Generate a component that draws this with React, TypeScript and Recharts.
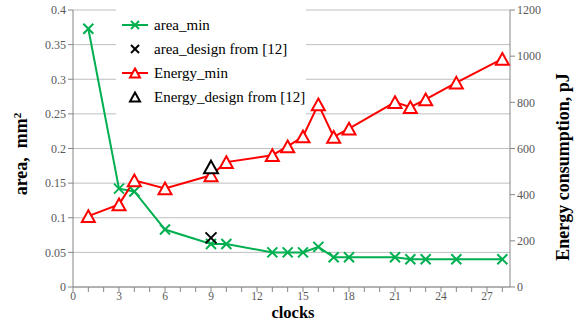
import React from 'react';
import { ComposedChart, Line, XAxis, YAxis, CartesianGrid } from 'recharts';

// clocks on the x axis
const CLOCKS = [1, 3, 4, 6, 9, 10, 13, 14, 15, 16, 17, 18, 21, 22, 23, 25, 28];
// area, mm^2 (left axis)
const AREA_MIN = [0.373, 0.142, 0.138, 0.083, 0.062, 0.062, 0.05, 0.05, 0.05, 0.058, 0.043, 0.043, 0.043, 0.04, 0.04, 0.04, 0.04];
// energy, pJ (right axis)
const ENERGY_MIN = [307, 358, 462, 427, 484, 541, 571, 609, 652, 791, 650, 686, 801, 779, 813, 885, 988];
// design points from [12]
const DESIGN_CLOCKS = [9];
const AREA_DESIGN = [0.071];
const ENERGY_DESIGN = [520];

const X_TICKS = [0, 1, 2, 3, 4, 5, 6, 7, 8, 9, 10, 11, 12, 13, 14, 15, 16, 17, 18, 19, 20, 21, 22, 23, 24, 25, 26, 27, 28];
const AREA_TICKS = [0, 0.05, 0.1, 0.15, 0.2, 0.25, 0.3, 0.35, 0.4];
const ENERGY_TICKS = [0, 200, 400, 600, 800, 1000, 1200];

const GREEN = '#00b050';
const RED = '#ff0000';
const SERIF = "'Liberation Serif', 'Times New Roman', serif";
const TICK_COLOR = '#595959';
const AXIS_COLOR = '#868686';

const toPoints = (xs: number[], ys: number[]) => xs.map((x, i) => ({ x, y: ys[i] }));

const areaMinData = toPoints(CLOCKS, AREA_MIN);
const energyMinData = toPoints(CLOCKS, ENERGY_MIN);
const areaDesignData = toPoints(DESIGN_CLOCKS, AREA_DESIGN);
const energyDesignData = toPoints(DESIGN_CLOCKS, ENERGY_DESIGN);

function XMark({ cx, cy, color, r = 5 }: { cx: number; cy: number; color: string; r?: number }) {
  return (
    <g stroke={color} strokeWidth={2}>
      <line x1={cx - r} y1={cy - r} x2={cx + r} y2={cy + r} />
      <line x1={cx - r} y1={cy + r} x2={cx + r} y2={cy - r} />
    </g>
  );
}

function TriMark({ cx, cy, color, r = 6.5 }: { cx: number; cy: number; color: string; r?: number }) {
  const h = r * 0.9;
  return (
    <polygon
      points={`${cx},${cy - h} ${cx + r},${cy + h} ${cx - r},${cy + h}`}
      fill="#fff"
      stroke={color}
      strokeWidth={2}
    />
  );
}

const xDot = (color: string, r?: number) => (p: any) =>
  <XMark key={`x-${color}-${p.index}`} cx={p.cx} cy={p.cy} color={color} r={r} />;
const triDot = (color: string, r?: number) => (p: any) =>
  <TriMark key={`t-${color}-${p.index}`} cx={p.cx} cy={p.cy} color={color} r={r} />;

// labels only on every third clock, tick marks on every clock
function ClockTick(props: any) {
  const { x, y, payload } = props;
  if (payload.value % 3 !== 0) return <g />;
  return (
    <text x={x} y={y + 6} textAnchor="middle" fill={TICK_COLOR} fontSize={11.5} style={{ fontFamily: SERIF }}>
      {payload.value}
    </text>
  );
}

function LegendRow({ label, line, marker }: { label: string; line?: string; marker: React.ReactNode }) {
  return (
    <div style={{ display: 'flex', alignItems: 'center', height: 24 }}>
      <svg width={28} height={16}>
        {line && <line x1={0} y1={8} x2={26} y2={8} stroke={line} strokeWidth={2} />}
        {marker}
      </svg>
      <span style={{ marginLeft: 4 }}>{label}</span>
    </div>
  );
}

export default function App() {
  return (
    <div style={{ position: 'absolute', left: 0, top: 0, width: 586, height: 322, background: '#fff', fontFamily: SERIF }}>
      <ComposedChart width={586} height={322} margin={{ top: 10, right: 31, bottom: 15, left: 28 }}>
        <CartesianGrid yAxisId="area" vertical={false} stroke="#bfbfbf" />
        <XAxis
          type="number"
          dataKey="x"
          domain={[0, 28.5]}
          ticks={X_TICKS}
          interval={0}
          tick={<ClockTick />}
          stroke={AXIS_COLOR}
          tickSize={5}
          height={20}
        />
        <YAxis
          yAxisId="area"
          orientation="left"
          domain={[0, 0.4]}
          ticks={AREA_TICKS}
          interval={0}
          width={45}
          tickSize={5}
          stroke={AXIS_COLOR}
          tick={{ fill: TICK_COLOR, fontSize: 12, style: { fontFamily: SERIF } }}
        />
        <YAxis
          yAxisId="energy"
          orientation="right"
          domain={[0, 1200]}
          ticks={ENERGY_TICKS}
          interval={0}
          width={45}
          tickSize={5}
          stroke={AXIS_COLOR}
          tick={{ fill: TICK_COLOR, fontSize: 12, style: { fontFamily: SERIF } }}
        />
        <Line
          yAxisId="area"
          data={areaMinData}
          dataKey="y"
          stroke={GREEN}
          strokeWidth={2}
          dot={xDot(GREEN)}
          activeDot={false}
          isAnimationActive={false}
        />
        <Line
          yAxisId="energy"
          data={energyMinData}
          dataKey="y"
          stroke={RED}
          strokeWidth={2}
          dot={triDot(RED)}
          activeDot={false}
          isAnimationActive={false}
        />
        <Line
          yAxisId="area"
          data={areaDesignData}
          dataKey="y"
          stroke="none"
          dot={xDot('#000', 5.5)}
          activeDot={false}
          isAnimationActive={false}
        />
        <Line
          yAxisId="energy"
          data={energyDesignData}
          dataKey="y"
          stroke="none"
          dot={triDot('#000', 7)}
          activeDot={false}
          isAnimationActive={false}
        />
        {/* axis titles */}
        <text
          transform="translate(27,154) rotate(-90)"
          textAnchor="middle"
          style={{ fontFamily: SERIF }}
          fontWeight="bold"
          fontSize={18}
          fill="#000"
        >
          area,{'\u00a0\u00a0'}mm<tspan baselineShift="super" fontSize={11}>2</tspan>
        </text>
        <text
          transform="translate(569,167) rotate(-90)"
          textAnchor="middle"
          style={{ fontFamily: SERIF }}
          fontWeight="bold"
          fontSize={18}
          fill="#000"
        >
          Energy consumption, pJ
        </text>
        <text x={293} y={318} textAnchor="middle" style={{ fontFamily: SERIF }} fontWeight="bold" fontSize={16.5} fill="#000">
          clocks
        </text>
      </ComposedChart>
      <div
        style={{
          position: 'absolute',
          left: 116,
          top: 0,
          width: 190,
          height: 118,
          background: '#fff',
          fontFamily: SERIF,
          fontSize: 15,
          color: '#000',
          paddingTop: 13,
          paddingLeft: 6,
          boxSizing: 'border-box',
        }}
      >
        <LegendRow label="area_min" line={GREEN} marker={<XMark cx={13} cy={8} color={GREEN} r={4} />} />
        <LegendRow label="area_design from [12]" marker={<XMark cx={13} cy={8} color="#000" r={4} />} />
        <LegendRow label="Energy_min" line={RED} marker={<TriMark cx={13} cy={8} color={RED} r={5} />} />
        <LegendRow label="Energy_design from [12]" marker={<TriMark cx={13} cy={8} color="#000" r={5} />} />
      </div>
    </div>
  );
}
